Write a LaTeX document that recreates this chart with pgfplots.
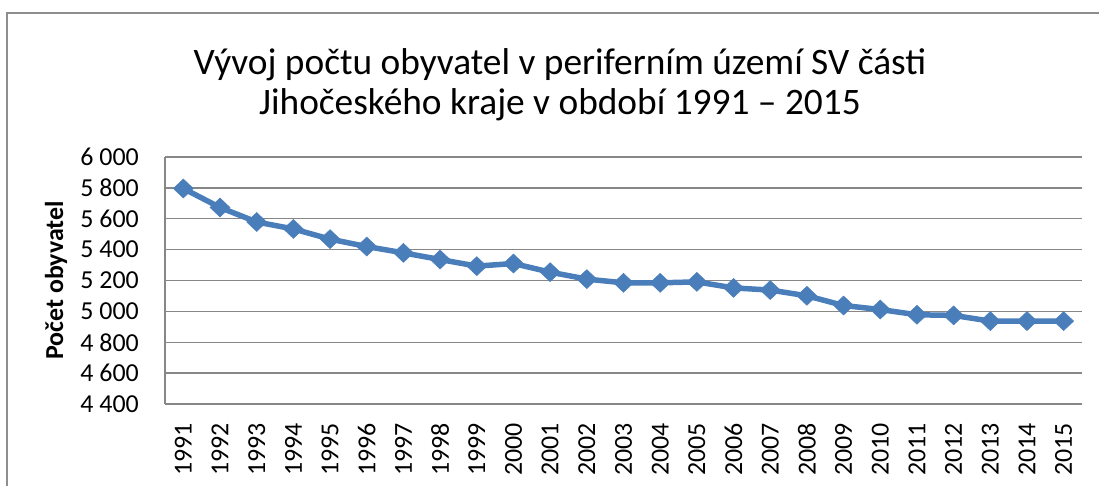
\documentclass[border=0pt]{standalone}
\usepackage{pgfplots}
\pgfplotsset{compat=1.18}
\usepackage{fontspec}
\setmainfont{Carlito}
\definecolor{serie}{HTML}{4A7EBB}
\definecolor{gridc}{HTML}{878787}
\definecolor{framec}{HTML}{8E8E8E}
\begin{document}
\begin{tikzpicture}
\path[use as bounding box] (0,0) rectangle (1099bp,-486bp);
\draw[framec, line width=1.8bp] (7bp,-500bp) -- (7bp,-12.7bp) -- (1120bp,-12.7bp);
\node[font=\fontsize{37.5}{40}\selectfont, align=center, anchor=center] at (560bp,-85bp)
  {Vývoj počtu obyvatel v periferním území SV části\\Jihočeského kraje v období 1991 – 2015};
\begin{axis}[
  at={(165bp,-404bp)}, anchor=south west,
  scale only axis, width=917bp, height=247bp,
  xmin=-0.5, xmax=24.5, ymin=4400, ymax=6000,
  xtick={0,...,24},
  xticklabels={1991,1992,1993,1994,1995,1996,1997,1998,1999,2000,2001,2002,2003,2004,2005,2006,2007,2008,2009,2010,2011,2012,2013,2014,2015},
  ytick={4400,4600,4800,5000,5200,5400,5600,5800,6000},
  yticklabels={4 400,4 600,4 800,5 000,5 200,5 400,5 600,5 800,6 000},
  major tick length=0pt,
  xtick style={draw=none}, ytick style={draw=none},
  xmajorgrids=false, ymajorgrids=true,
  grid style={gridc, line width=1.4bp},
  axis line style={gridc, line width=1.4bp},
  axis x line*=bottom, axis y line*=left,
  xticklabel style={rotate=90, anchor=east, inner sep=0pt, xshift=-19bp, font=\fontsize{26}{31}\selectfont},
  yticklabel style={anchor=east, inner sep=0pt, xshift=-26bp, font=\fontsize{26}{31}\selectfont},
  ylabel={\textbf{Počet obyvatel}},
  ylabel style={at={(rel axis cs:-0.1189,0.5)}, anchor=center, font=\fontsize{26}{31}\selectfont, inner sep=0pt},
  clip=false,
]
\addplot[serie, line width=5.5bp, mark=diamond*, mark size=9.5bp, mark options={fill=serie, draw=serie, line width=0.5bp, xscale=1.4}]
coordinates {
(0,5796) (1,5673) (2,5579) (3,5534) (4,5468) (5,5420) (6,5379) (7,5336) (8,5293)
(9,5310) (10,5254) (11,5209) (12,5185) (13,5185) (14,5191) (15,5152) (16,5138)
(17,5101) (18,5038) (19,5012) (20,4978) (21,4974) (22,4937) (23,4937) (24,4937)
};
\end{axis}
\end{tikzpicture}
\end{document}
